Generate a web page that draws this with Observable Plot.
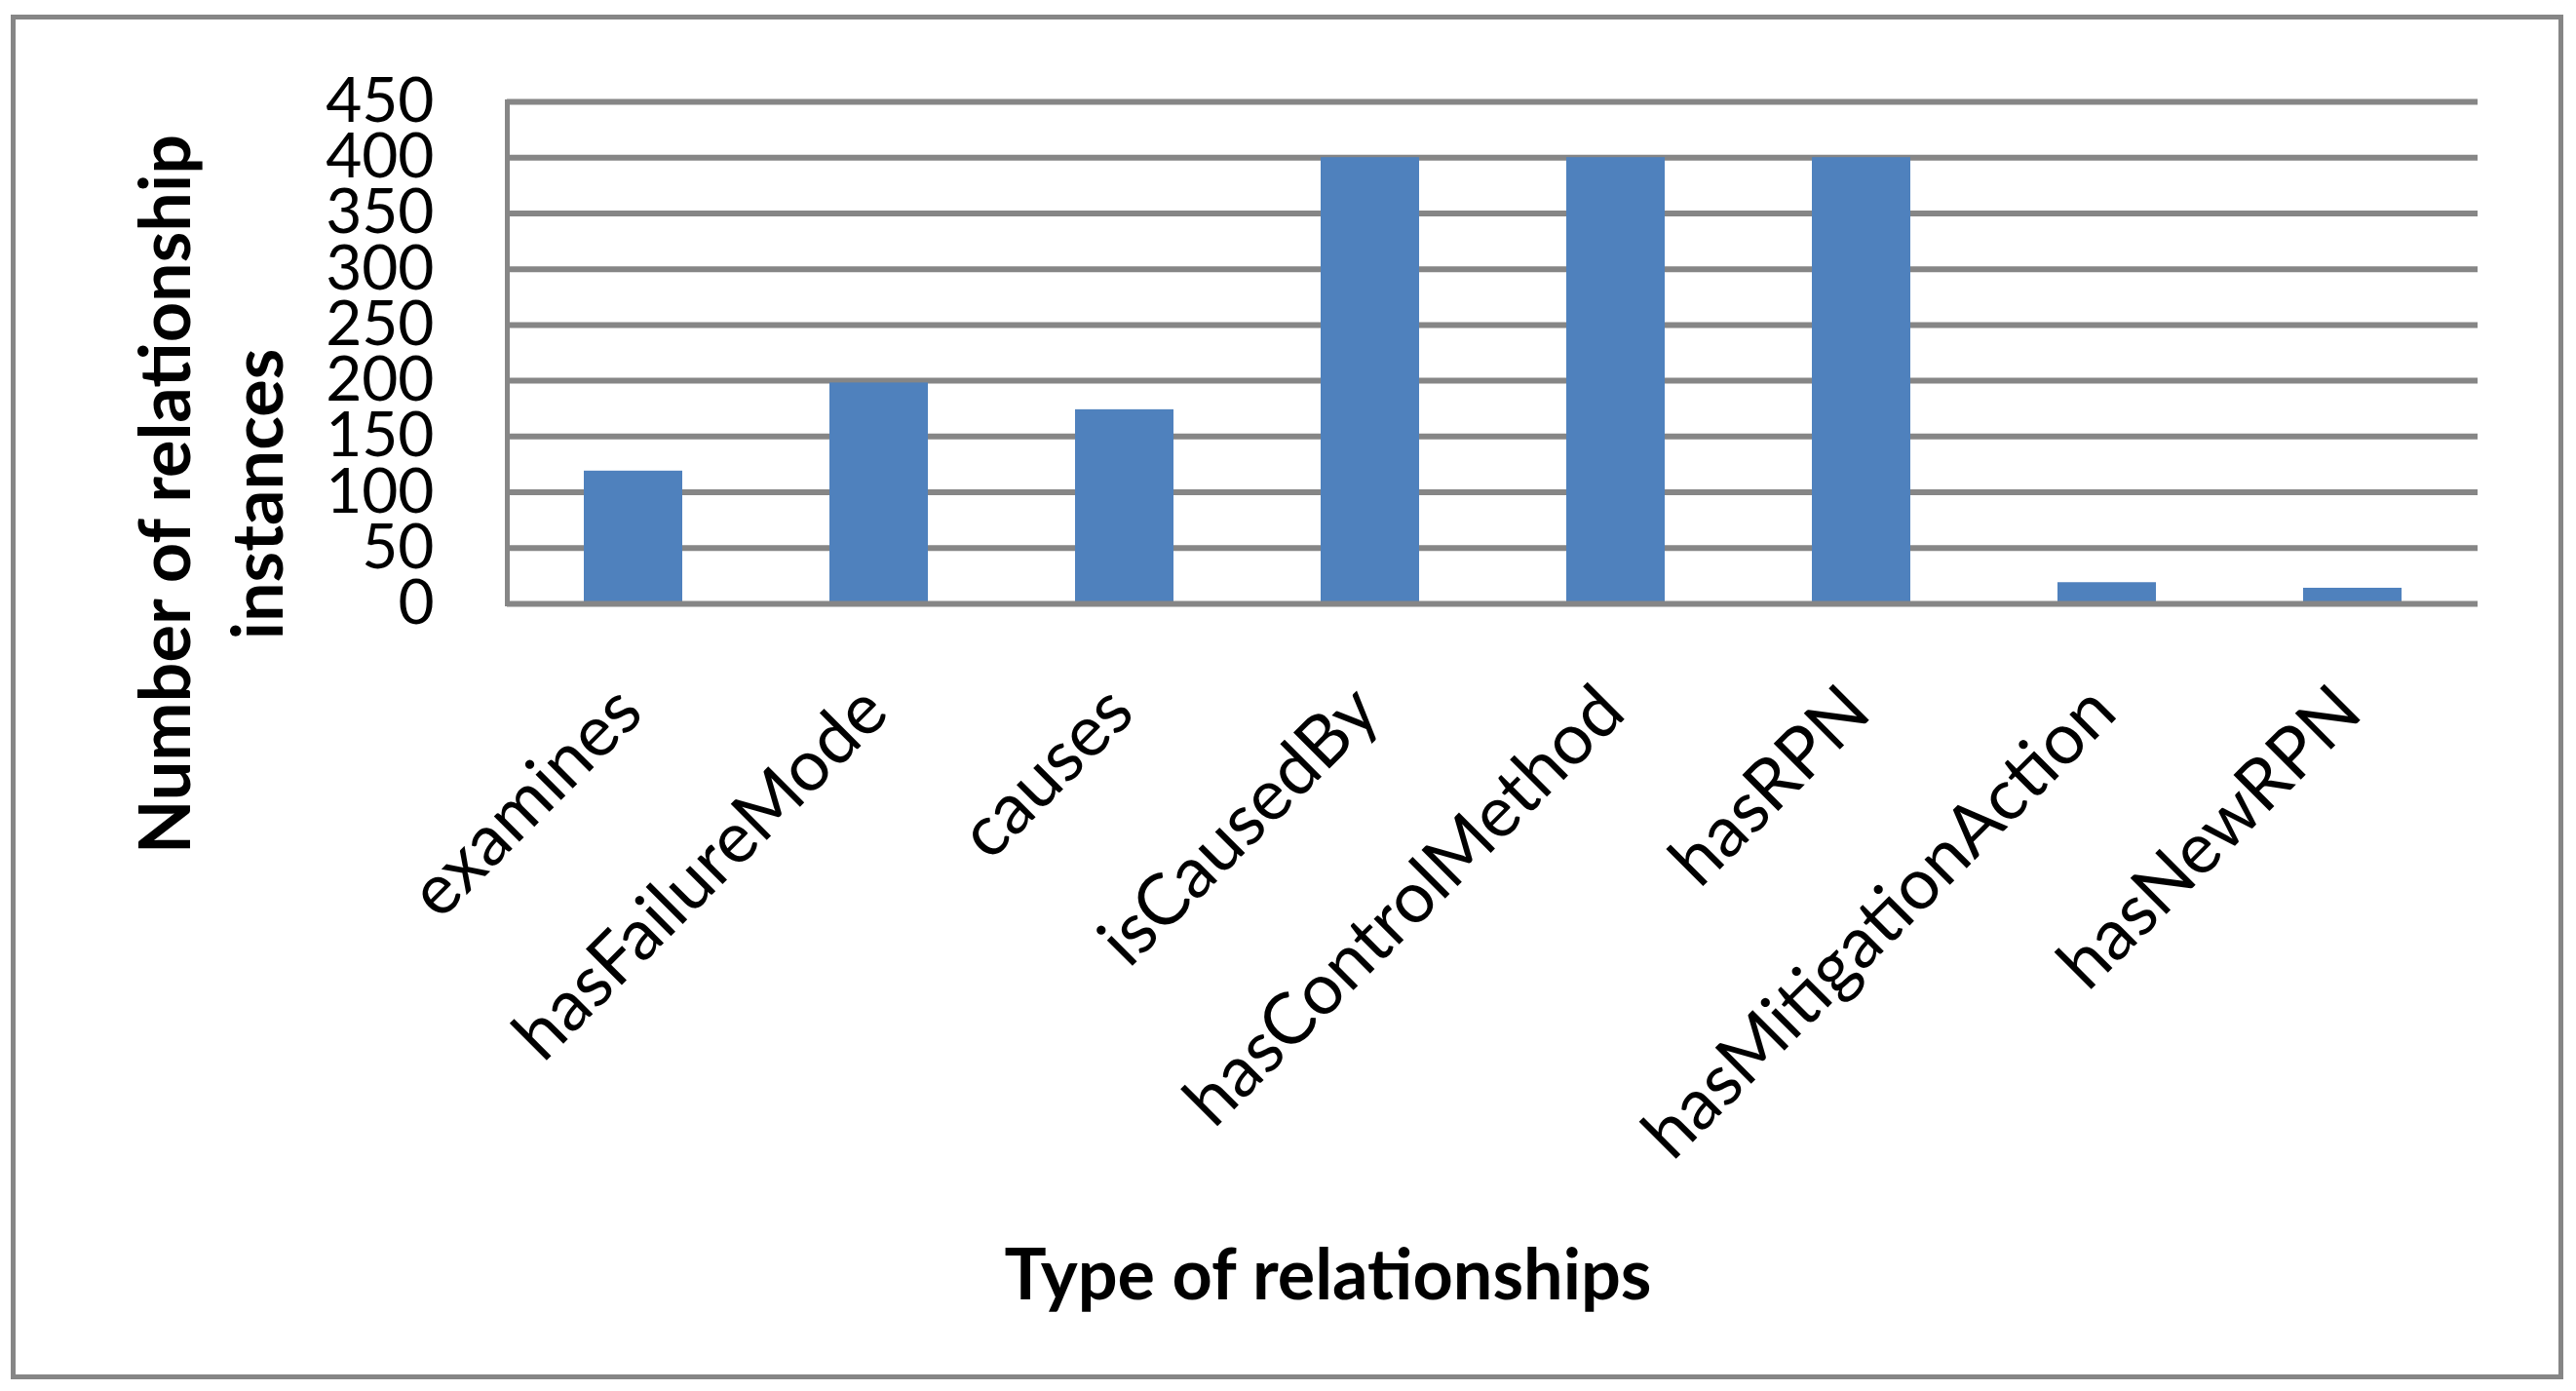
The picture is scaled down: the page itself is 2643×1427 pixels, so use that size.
<!DOCTYPE html>
<html>
<head>
<meta charset="utf-8">
<script src="https://cdn.jsdelivr.net/npm/d3@7"></script>
<script src="https://cdn.jsdelivr.net/npm/@observablehq/plot@0.6"></script>
<style>
  html, body { margin: 0; padding: 0; background: #fff; }
  svg { display: block; }
</style>
</head>
<body>
<div id="chart"></div>
<script>
// ---- data ----
const categories = ["examines", "hasFailureMode", "causes", "isCausedBy", "hasControlMethod", "hasRPN", "hasMitigationAction", "hasNewRPN"];
const counts = [119, 198, 174, 400, 400, 400, 19, 14];
const yTicks = [0, 50, 100, 150, 200, 250, 300, 350, 400, 450];
const xTitle = "Type of relationships";
const yTitle = "Number of relationship\ninstances";

const data = categories.map((c, i) => ({relationship: c, count: counts[i]}));
const gray = "#868686";
const blue = "#4F81BD";

const chart = Plot.plot({
  width: 2643,
  height: 1427,
  marginLeft: 520,
  marginRight: 101,
  marginTop: 104,
  marginBottom: 808,
  style: {fontFamily: "Lato, sans-serif", color: "#000", background: "#fff"},
  x: {type: "band", domain: categories, paddingInner: 0.6, paddingOuter: 0.3, axis: null},
  y: {domain: [0, 450], axis: null},
  marks: [
    Plot.frame({stroke: gray, strokeWidth: 5, insetLeft: -507, insetRight: -85, insetTop: -87, insetBottom: -793}),
    Plot.ruleY(yTicks.filter(v => v > 0), {stroke: gray, strokeWidth: 6}),
    Plot.barY(data, {x: "relationship", y: "count", fill: blue}),
    Plot.ruleY([0], {stroke: gray, strokeWidth: 6}),
    Plot.frame({anchor: "left", stroke: gray, strokeWidth: 5}),
    Plot.axisY({ticks: yTicks, tickSize: 0, tickPadding: 75, fontSize: 64, label: null, tickFormat: d => String(d)}),
    Plot.axisX({tickSize: 0, tickPadding: 98, tickRotate: -45, textAnchor: "end", lineAnchor: "middle", dx: -4, fontSize: 73, label: null}),
    Plot.text([xTitle], {frameAnchor: "bottom", dx: -169, dy: 690, fontSize: 72, fontWeight: "bold", lineAnchor: "middle", textAnchor: "middle"}),
    Plot.text([yTitle], {frameAnchor: "left", rotate: -90, dx: -308, dy: 145, fontSize: 72, fontWeight: "bold", lineHeight: 95 / 72, lineAnchor: "middle", textAnchor: "middle"})
  ]
});
document.getElementById("chart").append(chart);
</script>
</body>
</html>
